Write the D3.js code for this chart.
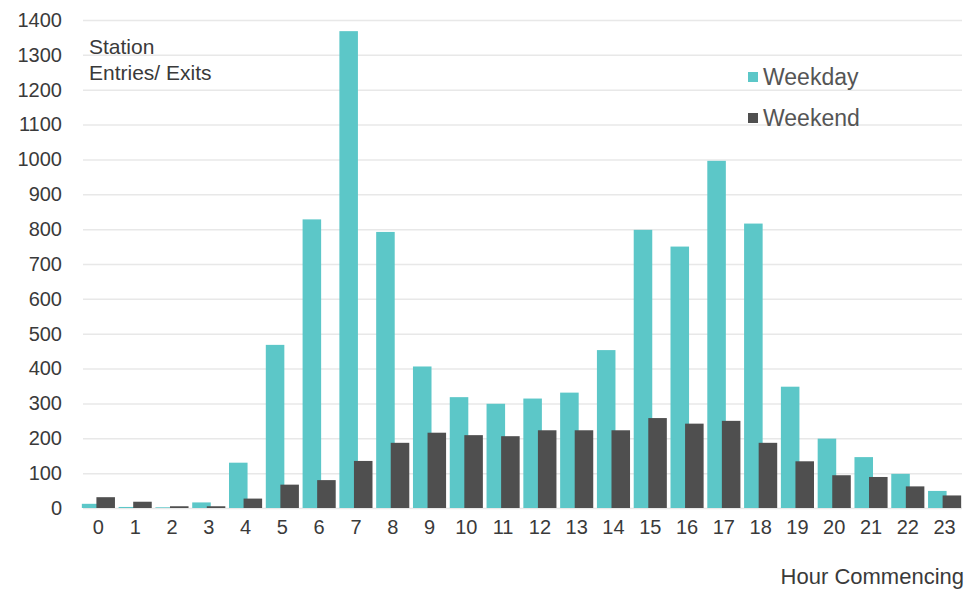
<!DOCTYPE html>
<html>
<head>
<meta charset="utf-8">
<script src="https://cdn.jsdelivr.net/npm/d3@7"></script>
<style>
  body { margin: 0; background: #fff; }
  svg { font-family: "Liberation Sans", Arial, sans-serif; }
</style>
</head>
<body>
<svg width="966" height="590"></svg>
<script>
/* Data */

var hours = d3.range(0, 24).map(String);
var weekday = [12, 3, 2, 16, 130, 468, 828, 1368, 792, 406, 318, 299, 314, 331, 453,
               798, 750, 996, 816, 348, 199, 146, 98, 49];
var weekend = [31, 18, 5, 5, 27, 67, 80, 135, 187, 216, 209, 206, 223, 223, 223,
               258, 242, 250, 187, 134, 94, 89, 62, 36];
var yTicks = d3.range(0, 1401, 100);
var series = [
  {name: "Weekday", values: weekday, color: "#5cc7c8"},
  {name: "Weekend", values: weekend, color: "#4f4f4f"}
];

/* Setup */

var svg = d3.select("svg");

// plot edges (note: "top" is taken by window.top)
var plotL = 83,
    plotR = 962,
    plotT = 20,
    plotB = 508;

var x = d3.scaleBand()
    .domain(hours)
    .range([80, 963])
    .paddingInner(0.1)
    .paddingOuter(0.05);

var y = d3.scaleLinear()
    .domain([0, 1400])
    .range([plotB, plotT]);

var barW = x.bandwidth() * 0.56;

/* Grid + y axis */

var yAxis = svg.append("g")
    .attr("transform", `translate(${plotL},0)`)
    .call(d3.axisLeft(y)
      .tickValues(yTicks)
      .tickFormat(d3.format("d"))
      .tickSize(-(plotR - plotL))
      .tickPadding(21));

yAxis.select(".domain").remove();
yAxis.selectAll("line")
    .attr("stroke", "#e8e8e8")
    .attr("stroke-width", 1.5);
yAxis.selectAll("text")
    .attr("fill", "#3a3a3a")
    .style("font-size", "20px");

/* Bars */

series.forEach((s, i) => {
  svg.append("g")
    .selectAll("rect")
    .data(s.values)
    .enter().append("rect")
    .attr("x", (d, j) => x(hours[j]) + (i === 0 ? 0 : x.bandwidth() - barW))
    .attr("y", (d) => y(d))
    .attr("width", barW)
    .attr("height", (d) => plotB - y(d))
    .attr("fill", s.color);
});

/* x axis */

var xAxis = svg.append("g")
    .attr("transform", `translate(0,${plotB})`)
    .call(d3.axisBottom(x).tickSize(0).tickPadding(12));

xAxis.select(".domain").remove();
xAxis.selectAll("text")
    .attr("fill", "#3a3a3a")
    .style("font-size", "20px");

/* Titles */

svg.append("text")
    .attr("x", 964)
    .attr("y", 584)
    .attr("text-anchor", "end")
    .attr("fill", "#3a3a3a")
    .style("font-size", "22px")
    .text("Hour Commencing");

svg.append("text")
    .attr("x", 89)
    .attr("y", 54)
    .attr("fill", "#3a3a3a")
    .style("font-size", "21px")
    .text("Station");

svg.append("text")
    .attr("x", 89)
    .attr("y", 80)
    .attr("fill", "#3a3a3a")
    .style("font-size", "21px")
    .text("Entries/ Exits");

/* Legend */

var legend = svg.append("g")
    .selectAll("g")
    .data(series)
    .enter().append("g")
    .attr("transform", (d, i) => `translate(748,${77 + i * 41})`);

legend.append("rect")
    .attr("x", 0)
    .attr("y", -5)
    .attr("width", 10)
    .attr("height", 10)
    .attr("fill", (d) => d.color);

legend.append("text")
    .attr("x", 15)
    .attr("y", 8)
    .attr("fill", "#555")
    .style("font-size", "23px")
    .text((d) => d.name);
</script>
</body>
</html>
